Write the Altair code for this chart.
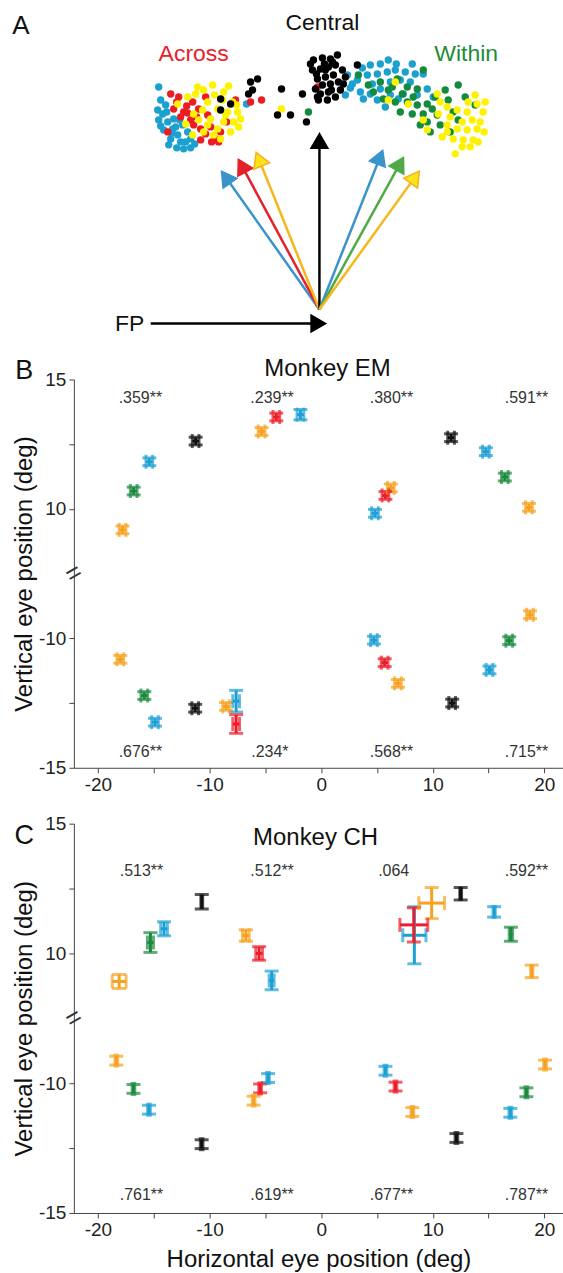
import altair as alt
import pandas as pd

FONT = "Liberation Sans"
CMAP = {"orange": "#F7A11F", "green": "#1B8A3E", "blue": "#1CA0D4",
        "red": "#EC1C2A", "black": "#111111"}

# ---------------- Panel A (schematic, screen-like units, y down) ----------------
A_across_blue = [(158, 85), (165, 103), (162, 112), (167, 120), (172, 127), (177, 133), (180, 140),
                 (170, 137), (187, 130), (173, 117), (182, 123), (190, 137), (183, 147), (163, 128),
                 (246, 102), (158, 118), (168, 143), (176, 146), (194, 142), (160, 98), (157, 108),
                 (166, 110), (175, 125), (185, 140), (179, 118), (171, 131), (160, 124), (190, 146)]
A_across_red = [(170, 92), (178, 95), (173, 107), (183, 110), (190, 118), (192, 100), (198, 107),
                (200, 127), (210, 125), (215, 137), (218, 140), (200, 138), (167, 130), (261, 98),
                (235, 98), (193, 123), (207, 113), (220, 130), (180, 115), (186, 104), (205, 95),
                (226, 120), (250, 100), (176, 100), (196, 115), (205, 132), (211, 140), (187, 111)]
A_across_yellow = [(177, 102), (187, 95), (195, 92), (203, 88), (212, 83), (223, 90), (207, 100),
                   (217, 107), (227, 110), (237, 110), (210, 117), (223, 120), (233, 120), (217, 127),
                   (203, 130), (213, 133), (198, 118), (193, 112), (240, 117), (230, 130), (222, 98),
                   (232, 100), (202, 108), (192, 133), (197, 85), (228, 84), (236, 103), (281, 107),
                   (214, 93), (225, 113), (207, 123), (185, 122), (238, 125), (220, 137)]
A_black = [(220, 97), (230, 102), (220, 108), (250, 80), (257, 77), (252, 88), (248, 92), (281, 87),
           (302, 92), (277, 113), (290, 113), (306, 120),
           (313, 58), (322, 56), (330, 57), (337, 53), (312, 68), (320, 67), (328, 65), (335, 63),
           (342, 68), (317, 77), (325, 75), (333, 73), (322, 83), (330, 82), (338, 80), (320, 92),
           (328, 90), (335, 95), (318, 98), (327, 98), (357, 63), (345, 75), (340, 88), (315, 87),
           (332, 60), (310, 62), (343, 82), (325, 68), (317, 95), (324, 62), (316, 72), (331, 88)]
A_central_red = [(317, 85)]
A_within_blue = [(370, 63), (380, 62), (388, 58), (367, 73), (377, 72), (387, 70), (395, 68), (405, 70),
                 (415, 72), (423, 72), (347, 73), (352, 82), (360, 90), (370, 92), (380, 87), (390, 80),
                 (400, 78), (410, 80), (363, 97), (377, 98), (390, 93), (403, 92), (417, 93), (427, 87),
                 (345, 93), (357, 78), (372, 82), (398, 97), (433, 95), (385, 105), (412, 62),
                 (362, 66), (396, 62), (350, 86)]
A_within_green = [(358, 73), (368, 83), (380, 80), (392, 85), (397, 77), (407, 85), (417, 87), (423, 68),
                  (383, 97), (395, 100), (407, 100), (417, 103), (427, 102), (400, 110), (412, 112),
                  (423, 112), (432, 107), (437, 113), (427, 120), (440, 123), (420, 123), (453, 110),
                  (458, 83), (448, 98), (450, 130), (465, 95), (475, 103), (445, 88), (388, 88),
                  (402, 92), (435, 95), (458, 118), (308, 110), (373, 90), (413, 95), (430, 130)]
A_within_yellow = [(395, 80), (388, 98), (408, 102), (437, 92), (440, 100), (447, 105), (457, 108),
                   (467, 110), (475, 93), (477, 102), (438, 112), (450, 115), (462, 120), (472, 118),
                   (447, 123), (457, 127), (467, 128), (477, 127), (453, 137), (463, 138), (473, 138),
                   (462, 145), (447, 130), (423, 118), (427, 128), (483, 110), (480, 120), (484, 130),
                   (470, 145), (455, 152), (485, 100), (468, 100), (442, 135), (478, 140)]

A_arrow_x0 = [319, 319, 319, 319, 319, 319, 319, 150]
A_arrow_y0 = [308, 308, 308, 308, 308, 308, 308, 322]
A_arrow_x1 = [220, 237, 255, 319, 383, 404, 420, 327]
A_arrow_y1 = [168, 156, 149, 130, 147, 154, 168, 322]
A_arrow_line = ["#3A93CB", "#E4202A", "#F5B81C", "#000000", "#3A93CB", "#4FAA47", "#F5B81C", "#000000"]
A_arrow_fill = ["#3A93CB", "#E4202A", "#FFE31A", "#000000", "#3A93CB", "#4FAA47", "#FFE31A", "#000000"]
A_arrow_edge = ["#3A93CB", "#E4202A", "#F2B21C", "#000000", "#3A93CB", "#4FAA47", "#F2B21C", "#000000"]

A_text = ["A", "Central", "Across", "Within", "FP"]
A_text_x = [20, 322, 193, 466, 129]
A_text_y = [24, 21, 52, 52, 322]
A_text_col = ["#111111", "#111111", "#E8202A", "#1E8C3A", "#111111"]
A_text_size = [26, 23, 23, 23, 23]

# ---------------- Panel B (Monkey EM) ----------------
B_color = ["orange", "green", "blue", "black", "orange", "red", "blue", "blue", "red", "orange",
           "black", "blue", "green", "orange",
           "orange", "green", "blue", "black", "orange", "blue", "red", "blue", "red", "orange",
           "black", "blue", "green", "orange"]
B_x = [-17.8, -16.8, -15.4, -11.25, -5.34, -4.02, -1.86, 4.82, 5.76, 6.24, 11.64, 14.76, 16.46, 18.62,
       -18.0, -15.85, -14.89, -11.29, -8.52, -7.62, -7.62, 4.73, 5.69, 6.88, 11.74, 15.08, 16.85, 18.71]
B_y = [9.19, 10.69, 11.82, 12.62, 12.99, 13.55, 13.64, 9.83, 10.52, 10.81, 12.75, 12.21, 11.23, 10.06,
       -10.81, -12.21, -13.24, -12.70, -12.63, -12.43, -13.31, -10.07, -10.94, -11.74, -12.5, -11.22,
       -10.09, -9.09]
B_xerr = [0.3] * 28
B_yerr = [0.15] * 6 + [0.2] + [0.15] * 12 + [0.42, 0.36] + [0.15] * 7
B_ann = [".359**", ".239**", ".380**", ".591**", ".676**", ".234*", ".568**", ".715**"]
B_ann_x = [-16.2, -4.4, 6.3, 18.4, -16.2, -4.6, 6.3, 18.4]
B_ann_y = [14.29, 14.29, 14.29, 14.29, -14.39, -14.39, -14.39, -14.39]

# ---------------- Panel C (Monkey CH) ----------------
C_color = ["orange", "green", "blue", "black", "orange", "red", "blue", "blue", "red", "orange",
           "black", "blue", "green", "orange",
           "orange", "green", "blue", "black", "orange", "red", "blue", "blue", "red", "orange",
           "black", "blue", "green", "orange"]
C_x = [-18.1, -15.3, -14.08, -10.7, -6.75, -5.56, -4.44, 8.35, 8.3, 9.9, 12.5, 15.5, 17.0, 18.87,
       -18.36, -16.82, -15.43, -10.71, -6.05, -5.47, -4.76, 5.76, 6.66, 8.17, 12.12, 16.95, 18.39, 20.06]
C_y = [8.92, 10.42, 10.95, 11.99, 10.69, 10.0, 8.96, 10.7, 11.1, 11.94, 12.3, 11.6, 10.74, 9.31,
       -9.13, -10.22, -11.02, -12.35, -10.67, -10.2, -9.80, -9.52, -10.13, -11.11, -12.11, -11.14,
       -10.35, -9.28]
C_xerr = [0.62, 0.27, 0.3, 0.08, 0.3, 0.3, 0.22, 1.04, 1.25, 1.15, 0.08, 0.1, 0.15, 0.1] + [0.12] * 14
C_yerr = [0.27, 0.38, 0.27, 0.28, 0.22, 0.26, 0.36, 1.1, 0.66, 0.6, 0.24, 0.2, 0.27, 0.24] + [0.17] * 14
C_ann = [".513**", ".512**", ".064", ".592**", ".761**", ".619**", ".677**", ".787**"]
C_ann_x = [-16.1, -4.4, 6.5, 18.4, -16.1, -4.4, 6.3, 18.4]
C_ann_y = [13.18, 13.18, 13.18, 13.18, -14.31, -14.31, -14.31, -14.31]

X_DOMAIN = [-22.16, 21.67]
SW = 3
CAP = 14


def dots_df():
    rows = []
    groups = [(A_across_blue + A_within_blue, "#1BA0D0"),
              (A_across_red + A_central_red, "#EC1C24"),
              (A_within_green, "#138A3E"),
              (A_across_yellow + A_within_yellow, "#FFF200"),
              (A_black, "#000000")]
    order = 0
    for pts, col in groups:
        for (px, py) in pts:
            rows.append({"x": px, "y": py, "c": col, "o": order})
            order += 1
    return pd.DataFrame(rows)


def panel_a():
    xs = alt.Scale(domain=[73, 563], nice=False, zero=False)
    ys = alt.Scale(domain=[0, 322], nice=False, zero=False, reverse=True)
    dots = alt.Chart(dots_df()).mark_circle(size=55, opacity=1).encode(
        x=alt.X("x:Q", scale=xs, axis=None), y=alt.Y("y:Q", scale=ys, axis=None),
        color=alt.Color("c:N", scale=None), order="o:Q")
    arr = pd.DataFrame({"x0": A_arrow_x0, "y0": A_arrow_y0, "x1": A_arrow_x1, "y1": A_arrow_y1,
                        "lc": A_arrow_line, "hf": A_arrow_fill, "hs": A_arrow_edge})
    abase = alt.Chart(arr).transform_calculate(
        ln="sqrt(pow(datum.x1 - datum.x0, 2) + pow(datum.y1 - datum.y0, 2))"
    ).transform_calculate(
        hx="datum.x1 - 9 * (datum.x1 - datum.x0) / datum.ln",
        hy="datum.y1 - 9 * (datum.y1 - datum.y0) / datum.ln",
        ang="(atan2(datum.x1 - datum.x0, datum.y0 - datum.y1) * 180 / PI + 360) % 360")
    lines = abase.mark_rule(strokeWidth=2.5).encode(
        x=alt.X("x0:Q", scale=xs, axis=None), y=alt.Y("y0:Q", scale=ys, axis=None),
        x2="hx:Q", y2="hy:Q", color=alt.Color("lc:N", scale=None))
    heads = abase.mark_point(shape="triangle-up", filled=True, size=290, strokeWidth=1.5, opacity=1).encode(
        x=alt.X("hx:Q", scale=xs, axis=None), y=alt.Y("hy:Q", scale=ys, axis=None),
        angle=alt.Angle("ang:Q", scale=None),
        fill=alt.Fill("hf:N", scale=None), stroke=alt.Stroke("hs:N", scale=None))
    tdf = pd.DataFrame({"t": A_text, "x": A_text_x, "y": A_text_y, "c": A_text_col, "s": A_text_size})
    texts = alt.Chart(tdf).mark_text(font=FONT, baseline="middle", align="center").encode(
        x=alt.X("x:Q", scale=xs, axis=None), y=alt.Y("y:Q", scale=ys, axis=None),
        text="t:N", color=alt.Color("c:N", scale=None), size=alt.Size("s:Q", scale=None))
    anchor = alt.Chart(pd.DataFrame({"x": [0], "x2": [1], "y": [0]})).mark_rule(
        color="white", strokeWidth=1).encode(
        x=alt.X("x:Q", scale=xs, axis=None), x2="x2:Q", y=alt.Y("y:Q", scale=ys, axis=None))
    return alt.layer(anchor, dots, lines, heads, texts).properties(width=490, height=322)


def panel(color, x, y, xerr, yerr, ann, ann_x, ann_y, title, title_x, title_y,
          letter, letter_y, xtitle, height):
    xs = alt.Scale(domain=X_DOMAIN, nice=False, zero=False)
    ys = alt.Scale(domain=[-7.5, 7.5], nice=False, zero=False)
    xkw = dict(values=[-20, -15, -10, -5, 0, 5, 10, 15, 20],
               labelExpr="datum.value % 10 == 0 ? (datum.value < 0 ? '-' + abs(datum.value) : '' + datum.value) : ''",
               grid=False, tickSize=5, labelFontSize=19, labelFont=FONT, labelColor="#222222",
               domainColor="#444444", tickColor="#444444", labelPadding=3,
               titleFont=FONT, titleFontSize=24, titleFontWeight="normal", titleColor="#111111",
               titlePadding=8)
    xaxis = alt.Axis(title=xtitle, **xkw) if xtitle else alt.Axis(title=None, **xkw)
    yaxis = alt.Axis(values=[-7.5, -5, -2.5, 2.5, 5, 7.5],
                     labelExpr="abs(datum.value) == 5 ? '' : (datum.value > 0 ? '' + (datum.value + 7.5) : '-' + abs(datum.value - 7.5))",
                     title="Vertical eye position (deg)", grid=False, tickSize=5,
                     labelFontSize=19, labelFont=FONT, labelColor="#222222", labelPadding=3,
                     domainColor="#444444", tickColor="#444444",
                     titleFont=FONT, titleFontSize=24, titleFontWeight="normal", titleColor="#111111",
                     titlePadding=2)
    df = pd.DataFrame({"c": [CMAP[k] for k in color], "x": x, "y": y, "xe": xerr, "ye": yerr})
    base = alt.Chart(df).transform_calculate(
        yt="datum.y > 0 ? datum.y - 7.5 : datum.y + 7.5"
    ).transform_calculate(
        xlo="datum.x - datum.xe", xhi="datum.x + datum.xe",
        ylo="datum.yt - datum.ye", yhi="datum.yt + datum.ye")

    def X(f):
        return alt.X(f + ":Q", scale=xs, axis=xaxis)

    def Y(f):
        return alt.Y(f + ":Q", scale=ys, axis=yaxis)

    col = alt.Color("c:N", scale=None)
    hbar = base.mark_rule(strokeWidth=SW).encode(x=X("xlo"), x2="xhi:Q", y=Y("yt"), color=col)
    vbar = base.mark_rule(strokeWidth=SW).encode(x=X("x"), y=Y("ylo"), y2="yhi:Q", color=col)
    cap1 = base.mark_tick(orient="horizontal", size=CAP, thickness=SW).encode(x=X("x"), y=Y("ylo"), color=col)
    cap2 = base.mark_tick(orient="horizontal", size=CAP, thickness=SW).encode(x=X("x"), y=Y("yhi"), color=col)
    cap3 = base.mark_tick(orient="vertical", size=CAP, thickness=SW).encode(x=X("xlo"), y=Y("yt"), color=col)
    cap4 = base.mark_tick(orient="vertical", size=CAP, thickness=SW).encode(x=X("xhi"), y=Y("yt"), color=col)

    adf = pd.DataFrame({"t": ann, "x": ann_x, "y": ann_y})
    anns = alt.Chart(adf).transform_calculate(
        yt="datum.y > 0 ? datum.y - 7.5 : datum.y + 7.5").mark_text(
        font=FONT, fontSize=16, color="#333333", baseline="middle").encode(
        x=X("x"), y=Y("yt"), text="t:N")
    ldf = pd.DataFrame({"t": [title, letter], "x": [title_x, -26.6], "y": [title_y, letter_y],
                        "s": [24, 27]})
    labels = alt.Chart(ldf).transform_calculate(
        yt="datum.y > 0 ? datum.y - 7.5 : datum.y + 7.5").mark_text(
        font=FONT, color="#111111", baseline="middle").encode(
        x=X("x"), y=Y("yt"), text="t:N", size=alt.Size("s:Q", scale=None))
    brk = alt.Chart(pd.DataFrame({"x": [X_DOMAIN[0]], "yt": [0.0]})).mark_text(
        text="=", font=FONT, fontSize=26, angle=330, color="#333333", baseline="middle").encode(
        x=X("x"), y=Y("yt"))
    return alt.layer(hbar, vbar, cap1, cap2, cap3, cap4, anns, labels, brk).properties(
        width=490, height=height)


chart_a = panel_a()
chart_b = panel(B_color, B_x, B_y, B_xerr, B_yerr, B_ann, B_ann_x, B_ann_y,
                "Monkey EM", 0.57, 15.39, "B", 15.31, None, 389)
chart_c = panel(C_color, C_x, C_y, C_xerr, C_yerr, C_ann, C_ann_x, C_ann_y,
                "Monkey CH", -0.5, 14.46, "C", 14.54, "Horizontal eye position (deg)", 390)

chart = alt.vconcat(chart_a, chart_b, chart_c, spacing=56, bounds="flush").properties(
    padding={"left": 0, "top": 0, "right": 0, "bottom": 0}
).configure(font=FONT, view=alt.ViewConfig(stroke=None))

chart.save("out.html", embed_options={"renderer": "svg", "actions": False})
